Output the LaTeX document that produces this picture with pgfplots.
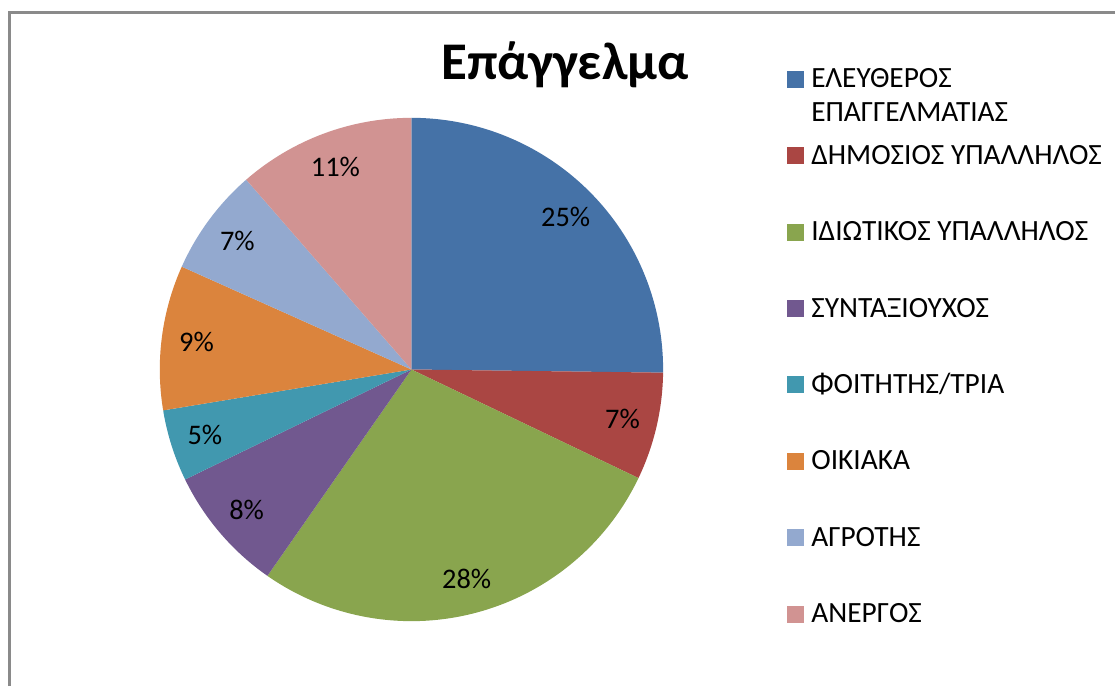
\documentclass[border=0pt]{standalone}
\usepackage{pgfplots}
\pgfplotsset{compat=1.18}
\usepackage{pgfplotstable}
\usepackage{fontspec}
\setmainfont{Carlito}

\definecolor{c0}{HTML}{4572A7}
\definecolor{c1}{HTML}{AA4643}
\definecolor{c2}{HTML}{89A54E}
\definecolor{c3}{HTML}{71588F}
\definecolor{c4}{HTML}{4198AF}
\definecolor{c5}{HTML}{DB843D}
\definecolor{c6}{HTML}{93A9CF}
\definecolor{c7}{HTML}{D19392}
\definecolor{framegray}{HTML}{8A8A8A}

% share of each occupation (percent), clockwise from 12 o'clock
\pgfplotstableread[col sep=comma]{
value,label
25.2,25
6.9,7
27.6,28
8.1,8
4.6,5
9.3,9
6.9,7
11.4,11
}\piedata

\newcommand\lblfont{\fontsize{14.2}{16}\selectfont}
\newcommand\legfont{\fontsize{14.7}{17}\selectfont}

% legend item: colour, baseline (pixels from top), text
\newcommand\legitem[3]{%
  \fill[#1] (788,{687-#2}) rectangle (805,{687-#2+17});
  \node[anchor=base west,inner sep=0pt,font=\legfont] at (812,{687-#2}) {#3};
}

\begin{document}
\begin{tikzpicture}
\begin{axis}[
  x=0.5pt, y=0.5pt,
  xmin=0, xmax=1116, ymin=0, ymax=687,
  hide axis, clip=false,
]
\path (0,0) rectangle (1116,687);
\def\a{90}
\pgfplotsforeachungrouped \i in {0,...,7}{%
  \pgfplotstablegetelem{\i}{value}\of\piedata
  \pgfmathsetmacro\b{\a-3.6*\pgfplotsretval}%
  \pgfmathsetmacro\m{(\a+\b)/2}%
  \pgfplotstablegetelem{\i}{label}\of\piedata
  \let\lab\pgfplotsretval
  \edef\cmd{%
    \noexpand\fill[c\i] (412,317) -- ++(\a:126pt) arc[start angle=\a,end angle=\b,radius=126pt] -- cycle;
    \noexpand\path (412,317) ++(\m:108.5pt) node[font=\noexpand\lblfont,inner sep=0pt] {\lab\noexpand\%};
  }%
  \cmd
  \let\a\b
}
% title
\node[anchor=base,inner sep=0pt,font=\bfseries\fontsize{26.5}{30}\selectfont] at (566,{687-80}) {Επάγγελμα};
% legend
\legitem{c0}{88}{ΕΛΕΥΘΕΡΟΣ}
\node[anchor=base west,inner sep=0pt,font=\legfont] at (812,{687-122}) {ΕΠΑΓΓΕΛΜΑΤΙΑΣ};
\legitem{c1}{164.5}{ΔΗΜΟΣΙΟΣ ΥΠΑΛΛΗΛΟΣ}
\legitem{c2}{241}{ΙΔΙΩΤΙΚΟΣ ΥΠΑΛΛΗΛΟΣ}
\legitem{c3}{317.5}{ΣΥΝΤΑΞΙΟΥΧΟΣ}
\legitem{c4}{394}{ΦΟΙΤΗΤΗΣ/ΤΡΙΑ}
\legitem{c5}{470.5}{ΟΙΚΙΑΚΑ}
\legitem{c6}{547}{ΑΓΡΟΤΗΣ}
\legitem{c7}{623.5}{ΑΝΕΡΓΟΣ}
% chart frame
\draw[framegray,line width=1.5pt] (10,0) -- (10,674.5) -- (1116,674.5);
\end{axis}
\end{tikzpicture}
\end{document}
